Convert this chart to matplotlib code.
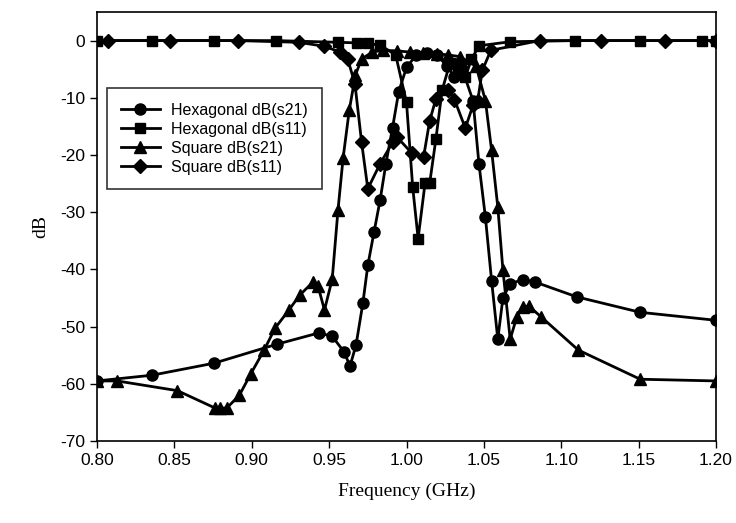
import matplotlib
matplotlib.use("Agg")
import matplotlib.pyplot as plt

# Hexagonal dB(s21)
hex_s21_f = [0.800, 0.8355, 0.8756, 0.916, 0.9434, 0.952, 0.9596, 0.9635, 0.9674,
             0.9718, 0.975, 0.979, 0.983, 0.9867, 0.991, 0.995, 1.000, 1.006, 1.013,
             1.020, 1.026, 1.031, 1.036, 1.043, 1.0468, 1.051, 1.055, 1.059, 1.0623,
             1.067, 1.075, 1.083, 1.110, 1.151, 1.200]
hex_s21_db = [-59.5, -58.5, -56.4, -53.1, -51.1, -51.7, -54.4, -56.9, -53.2,
              -45.9, -39.3, -33.5, -27.8, -21.5, -15.2, -8.9, -4.7, -2.6, -2.2,
              -2.6, -4.4, -6.3, -5.0, -10.5, -21.5, -30.9, -42.0, -52.2, -45.0,
              -42.5, -41.8, -42.2, -44.8, -47.5, -48.9]

# Hexagonal dB(s11)
hex_s11_f = [0.800, 0.8355, 0.8756, 0.9156, 0.956, 0.968, 0.975, 0.983, 0.993,
             1.000, 1.004, 1.0075, 1.012, 1.015, 1.019, 1.023, 1.028, 1.033,
             1.038, 1.042, 1.047, 1.067, 1.109, 1.151, 1.191, 1.200]
hex_s11_db = [0.0, 0.0, 0.0, 0.0, -0.3, -0.4, -0.5, -0.8, -2.5,
              -10.8, -25.6, -34.6, -24.9, -24.9, -17.2, -8.7, -4.0, -5.0,
              -6.4, -3.2, -0.9, -0.2, 0.0, 0.0, 0.0, 0.0]

# Square dB(s21)
sq_s21_f = [0.800, 0.813, 0.852, 0.876, 0.8795, 0.884, 0.892, 0.8995, 0.908,
            0.915, 0.924, 0.931, 0.9396, 0.9428, 0.947, 0.952, 0.9557, 0.959,
            0.963, 0.967, 0.971, 0.978, 0.985, 0.9936, 1.0022, 1.0107, 1.0196,
            1.0268, 1.0345, 1.045, 1.051, 1.055, 1.059, 1.0623, 1.067, 1.0713,
            1.075, 1.079, 1.087, 1.111, 1.151, 1.200]
sq_s21_db = [-59.5, -59.5, -61.2, -64.2, -64.3, -64.2, -62.0, -58.2, -54.1,
             -50.3, -47.1, -44.5, -42.2, -42.9, -47.1, -41.7, -29.7, -20.6,
             -12.2, -6.0, -3.2, -2.0, -1.7, -1.8, -2.0, -2.1, -2.3,
             -2.5, -2.8, -4.5, -10.5, -19.2, -29.1, -40.1, -52.2, -48.3,
             -46.6, -46.4, -48.3, -54.1, -59.2, -59.5]

# Square dB(s11)
sq_s11_f = [0.807, 0.847, 0.891, 0.9305, 0.947, 0.957, 0.962, 0.9667, 0.971,
            0.975, 0.983, 0.991, 0.994, 1.0035, 1.011, 1.015, 1.019, 1.027,
            1.031, 1.038, 1.043, 1.046, 1.049, 1.0545, 1.086, 1.126, 1.167, 1.200]
sq_s11_db = [0.0, 0.0, 0.0, -0.3, -1.0, -2.0, -3.2, -7.6, -17.8,
             -25.9, -21.5, -17.8, -16.9, -19.7, -20.4, -14.0, -10.2, -8.7,
             -10.3, -15.3, -11.3, -10.5, -5.2, -1.7, 0.0, 0.0, 0.0, 0.0]

xticks = [0.80, 0.85, 0.90, 0.95, 1.00, 1.05, 1.10, 1.15, 1.20]
yticks = [0, -10, -20, -30, -40, -50, -60, -70]


def main():
    plt.rcParams['font.family'] = ['Liberation Sans', 'DejaVu Sans']
    plt.rcParams['axes.unicode_minus'] = False
    fig = plt.figure(figsize=(7.36, 5.23), dpi=100)
    ax = fig.add_axes([97 / 736, 1 - 441 / 523, 619 / 736, 429 / 523])

    ax.plot(hex_s21_f, hex_s21_db, marker='o', label='Hexagonal dB(s21)',
            color='black', linewidth=2, markersize=8)
    ax.plot(hex_s11_f, hex_s11_db, marker='s', label='Hexagonal dB(s11)',
            color='black', linewidth=2, markersize=7)
    ax.plot(sq_s21_f, sq_s21_db, marker='^', label='Square dB(s21)',
            color='black', linewidth=2, markersize=8)
    ax.plot(sq_s11_f, sq_s11_db, marker='D', label='Square dB(s11)',
            color='black', linewidth=2, markersize=7)

    ax.set_xlim(0.80, 1.20)
    ax.set_ylim(-70, 5)
    ax.set_xticks(xticks)
    ax.set_xticklabels(["%.2f" % v for v in xticks])
    ax.set_yticks(yticks)
    ax.tick_params(direction='out', length=5, width=1, labelsize=12.5, colors='black')
    for sp in ax.spines.values():
        sp.set_linewidth(1.2)

    ax.set_xlabel("Frequency (GHz)", family='Liberation Serif', fontsize=14, labelpad=11)
    ax.set_ylabel("dB", family='Liberation Serif', fontsize=14, labelpad=8)

    leg = ax.legend(loc='upper left', bbox_to_anchor=(0.003, 0.841), fontsize=11.5,
                    frameon=True, fancybox=False, edgecolor='black',
                    handlelength=2.4, borderpad=0.9, labelspacing=0.25,
                    handletextpad=0.7)
    leg.get_frame().set_linewidth(1.2)

    fig.savefig("out.png", dpi=100)
    return 0


if __name__ == "__main__":
    main()
